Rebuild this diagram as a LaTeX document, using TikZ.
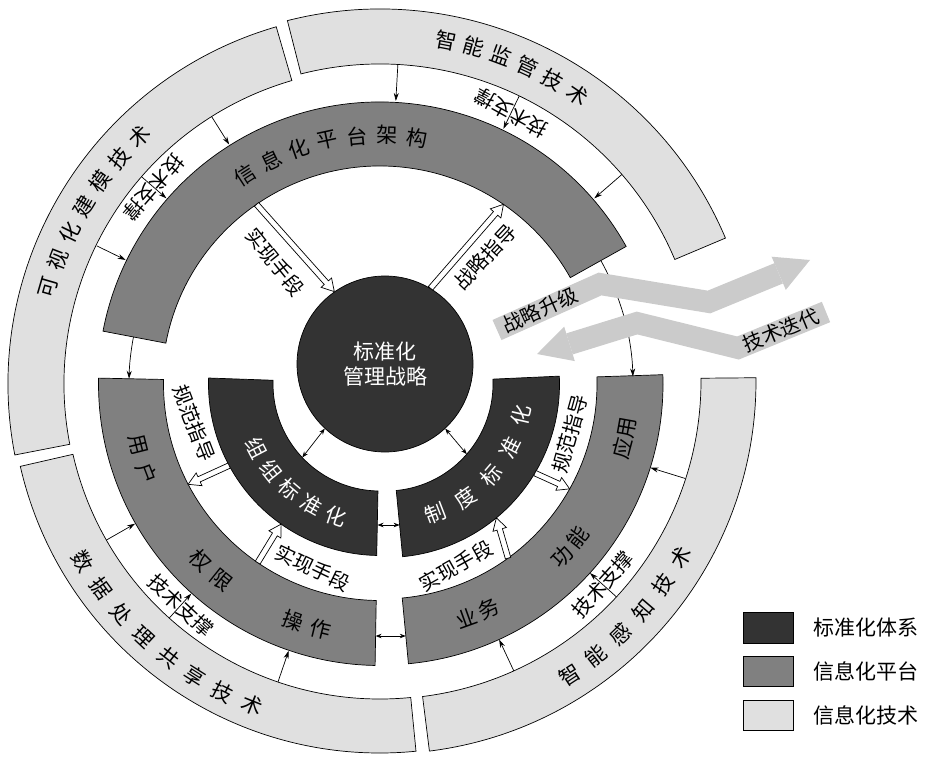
\documentclass[tikz,border=0pt]{standalone}
\usepackage{fontspec}
\setmainfont{Noto Sans CJK SC}
\usetikzlibrary{calc,arrows.meta}
\definecolor{dk}{HTML}{333333}
\definecolor{md}{HTML}{808080}
\definecolor{lt}{HTML}{E0E0E0}
\definecolor{ga}{HTML}{CBCBCB}
\tikzset{
  piece/.style={draw=black, line width=0.7pt},
  thinarr/.style={-{Stealth[length=8pt,width=5pt]}, line width=0.7pt},
  dblarr/.style={{Stealth[length=6pt,width=4.5pt]}-{Stealth[length=6pt,width=4.5pt]}, line width=0.7pt},
  hollowst/.style={draw=black, fill=white, line width=0.7pt, line join=miter},
  bigarrow/.style={draw=ga, line width=22pt, line join=miter},
  ringfont/.style={font=\fontsize{21}{24}\selectfont},
}
\newcommand\ringpiece[6]{%
  \draw[#6] ($(#1)+(#4:#3)$) arc[start angle=#4, end angle=#5, radius=#3]
    -- ($(#1)+(#5:#2)$) arc[start angle=#5, end angle=#4, radius=#2] -- cycle;}
\newcommand\arctext[7]{%
  \foreach \ch [count=\i from 0] in {#7}{%
    \pgfmathsetmacro\ang{#4+\i*(#5)}%
    \node[ringfont, rotate={\ang+(#6)}] (#1\i) at ($(#2)+(\ang:#3)$) {\ch};}}
\newcommand\radarr[5]{%
  \coordinate (#1s) at ($(#2)+(#3:#4)$);
  \coordinate (#1e) at ($(#2)+(#3:#5)$);
  \draw[thinarr] (#1s) -- (#1e);}
\newcommand\hollow[3]{%
  \coordinate (#1h) at ($(#3)!12pt!(#2)$);
  \draw[hollowst] ($(#2)!2.8pt!-90:(#3)$) -- ($(#1h)!2.8pt!-90:(#3)$)
    -- ($(#1h)!7pt!-90:(#3)$) -- (#3) -- ($(#1h)!7pt!90:(#3)$)
    -- ($(#1h)!2.8pt!90:(#3)$) -- ($(#2)!2.8pt!90:(#3)$) -- cycle;}
\begin{document}
\begin{tikzpicture}[x=1pt,y=1pt, every node/.style={inner sep=0pt, font=\fontsize{20}{24}\selectfont}]
\useasboundingbox (0,0) rectangle (933,756);
\coordinate (C0) at (380,372);
\coordinate (C2) at (386,372);
\coordinate (CM) at (382,372);
\coordinate (CL) at (383,375);
% outer light ring
\ringpiece{C0}{316}{372}{106.2}{191.0}{piece, fill=lt}
\ringpiece{C0}{320}{375}{22.9}{104.3}{piece, fill=lt}
\ringpiece{C0}{315}{369}{192.9}{275.6}{piece, fill=lt}
\ringpiece{CL}{318}{373}{-82.85}{0.5}{piece, fill=lt}
% medium ring
\ringpiece{C0}{218}{282}{29.2}{169.2}{piece, fill=md}
\ringpiece{C0}{216.5}{281.5}{178.8}{269.0}{piece, fill=md}
\ringpiece{CM}{215}{281}{-84.6}{1.9}{piece, fill=md}
% dark ring
\ringpiece{C0}{107}{171.5}{178.0}{268.9}{piece, fill=dk}
\ringpiece{C2}{107}{173.5}{-84.5}{2.6}{piece, fill=dk}
% core
\node[circle, fill=dk, draw=black, line width=0.7pt, minimum size=176pt, text=white, align=center, font=\fontsize{21}{25}\selectfont] (core) at (385,392) {标准化\\管理战略};
% thin radial arrows
\radarr{a1}{C0}{122.2}{316}{283}
\radarr{a2}{C0}{139}{316}{283}
\radarr{a3}{C0}{154}{315}{283}
\radarr{a4}{C0}{86.8}{320}{283.5}
\radarr{a5}{C0}{64.2}{320}{283.5}
\radarr{a6}{C0}{40.9}{320}{283.5}
\radarr{a7}{C0}{209.7}{315}{282}
\radarr{a8}{C0}{228}{315}{282}
\radarr{a9}{C0}{251.1}{315}{282}
\radarr{a10}{C0}{-17.2}{319.5}{283}
\radarr{a11}{C0}{-42}{318}{282.5}
\radarr{a12}{C0}{-65}{316.5}{282}
% curved arrows
\coordinate (ca1) at ($(C0)+(169.2:251)$);
\draw[thinarr] (ca1) arc[start angle=169.2, end angle=178.8, radius=251];
\coordinate (ca2) at ($(C0)+(29.2:253)$);
\draw[thinarr] (ca2) arc[start angle=29.2, end angle=1.7, radius=253];
% hollow arrows
\coordinate (h1s) at ($(C0)+(124.5:218)$);
\hollow{h1}{h1s}{core.125.9}
\coordinate (h2e) at ($(C0)+(55.5:218)$);
\hollow{h2}{core.59.4}{h2e}
\coordinate (h3s) at ($(C0)+(208.4:171.5)$);
\coordinate (h3e) at ($(C0)+(207.6:216.5)$);
\hollow{h3}{h3s}{h3e}
\coordinate (h4s) at ($(C0)+(235.6:216.5)$);
\coordinate (h4e) at ($(C0)+(234.8:171.5)$);
\hollow{h4}{h4s}{h4e}
\coordinate (h5s) at ($(C2)+(-30.9:173.5)$);
\coordinate (h5e) at ($(CM)+(-29.2:215)$);
\hollow{h5}{h5s}{h5e}
\coordinate (h6s) at ($(CM)+(-54.1:215)$);
\coordinate (h6e) at ($(C2)+(-50.5:173.5)$);
\hollow{h6}{h6s}{h6e}
% double arrows
\coordinate (d1e) at ($(C0)+(223.4:107)$);
\draw[dblarr] (core.227.8) -- (d1e);
\coordinate (d2e) at ($(C2)+(-41:107)$);
\draw[dblarr] (core.-47.8) -- (d2e);
\coordinate (d3s) at (377.5,231);
\coordinate (d3e) at (399.6,231);
\draw[dblarr] (d3s) -- (d3e);
\coordinate (d4s) at (375.6,120);
\coordinate (d4e) at (405.8,120);
\draw[dblarr] (d4s) -- (d4e);
% ring texts
\arctext{tA}{C0}{249}{122.9}{-6.9}{-90}{信,息,化,平,台,架,构}
\arctext{tB}{C0}{345}{163.8}{-4.93}{-90}{可,视,化,建,模,技,术}
\arctext{tC}{C0}{350}{79.1}{-4.68}{-90}{智,能,监,管,技,术}
\arctext{tD}{C0}{346}{210.9}{5.34}{90}{数,据,处,理,共,享,技,术}
\arctext{tE}{C0}{347}{-56.9}{5.4}{90}{智,能,感,知,技,术}
\begin{scope}[every node/.append style={text=white}]
\arctext{tF}{C0}{139}{207.5}{11}{90}{组,组,标,准,化}
\arctext{tG}{C2}{139}{-69}{14}{90}{制,度,标,准,化}
\end{scope}
\arctext{tH}{C0}{250}{194.1}{6.8}{90}{用,户}
\arctext{tI}{C0}{252}{224.5}{6.6}{90}{权,限}
\arctext{tJ}{C0}{252}{249.8}{6.6}{90}{操,作}
\arctext{tK}{CM}{249}{-15}{4.8}{90}{应,用}
\arctext{tL}{CM}{249}{-43.7}{5.6}{90}{功,能}
\arctext{tM}{CM}{249}{-70.2}{5.5}{90}{业,务}
% labels
\node[rotate=229] (lb1) at ($(C0)+(139:300)$) {技术支撑};
\node[rotate=151] (lb2) at ($(C0)+(64.2:301)$) {技术支撑};
\node[rotate=-43] (lb3) at ($(C0)+(228:298)$) {技术支撑};
\node[rotate=48] (lb4) at ($(C0)+(-42:300)$) {技术支撑};
\node[rotate=-51.3] (lh1) at (275,494) {实现手段};
\node[rotate=47] (lh2) at (485,499) {战略指导};
\node[rotate=-69] (lh3) at (194,333) {规范指导};
\node[rotate=-25.8] (lh4) at (313,188) {实现手段};
\node[rotate=74.5] (lh5) at (570,322) {规范指导};
\node[rotate=29.2] (lh6) at (456,190) {实现手段};
% big gray arrows
\coordinate (gS) at (497,426);
\coordinate (gK1) at (600,472);
\coordinate (gK2) at (709,454);
\coordinate (gB) at (778.7,482.7);
\coordinate (gW1) at (785.8,466.1);
\coordinate (gW2) at (771.6,499.3);
\coordinate (gT) at (810,496);
\draw[bigarrow] (gS) -- (gK1) -- (gK2) -- (gB);
\fill[ga] (gW1) -- (gT) -- (gW2) -- cycle;
\coordinate (hR) at (826,444);
\coordinate (hK3) at (738,408);
\coordinate (hK4) at (637,433);
\coordinate (hB) at (569.5,412.1);
\coordinate (hW1) at (574.8,394.9);
\coordinate (hW2) at (564.2,429.3);
\coordinate (hT) at (537,402);
\draw[bigarrow] (hR) -- (hK3) -- (hK4) -- (hB);
\fill[ga] (hW1) -- (hT) -- (hW2) -- cycle;
\node[rotate=24.1] (g1t) at (540,446) {战略升级};
\node[rotate=22.2] (g2t) at (781,426) {技术迭代};
% legend
\node[piece, fill=dk, minimum width=50pt, minimum height=30.5pt] (lg1) at (768,128) {};
\node[piece, fill=md, minimum width=50pt, minimum height=30.5pt] (lg2) at (768,84.5) {};
\node[piece, fill=lt, minimum width=50pt, minimum height=30.5pt] (lg3) at (768,40.5) {};
\node[anchor=west, font=\fontsize{21}{25}\selectfont] (lt1) at (813,128) {标准化体系};
\node[anchor=west, font=\fontsize{21}{25}\selectfont] (lt2) at (813,84.5) {信息化平台};
\node[anchor=west, font=\fontsize{21}{25}\selectfont] (lt3) at (813,40.5) {信息化技术};
\end{tikzpicture}
\end{document}
